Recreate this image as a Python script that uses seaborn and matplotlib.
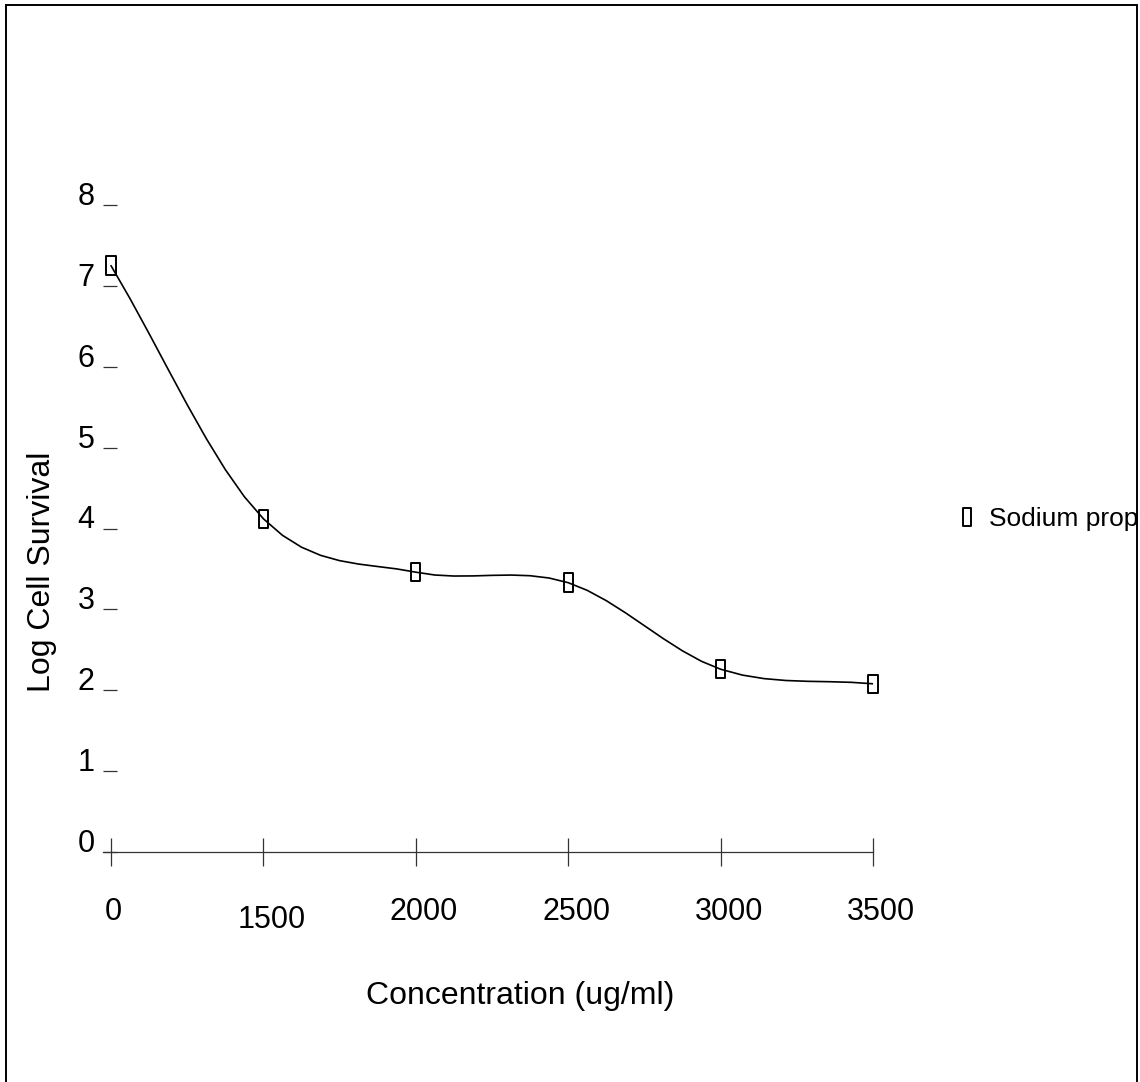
import numpy as np
import pandas as pd
import matplotlib
matplotlib.use("Agg")
import matplotlib.pyplot as plt
import matplotlib.transforms as mtransforms
from matplotlib.path import Path
from matplotlib.lines import Line2D
from matplotlib.patches import Rectangle
import seaborn as sns

# ---- data ----
concentration_labels = ["0", "1500", "2000", "2500", "3000", "3500"]
log_survival = [7.25, 4.12, 3.46, 3.33, 2.26, 2.08]
y_ticks = [0, 1, 2, 3, 4, 5, 6, 7, 8]
series_name = "Sodium prop"

sns.set_theme(style="white")
plt.rcParams["font.family"] = ["Liberation Sans", "DejaVu Sans"]
plt.rcParams["text.color"] = "black"

W, H = 1140, 1082
fig = plt.figure(figsize=(W / 100, H / 100), dpi=100)
fig.patch.set_facecolor("white")

# axes placement in pixels
x_left, x_right = 103, 873
y_bottom, y_top = 852, 205
ax = fig.add_axes([x_left / W, (H - y_bottom) / H, (x_right - x_left) / W, (y_bottom - y_top) / H])
ax.set_facecolor("white")

positions = np.arange(len(concentration_labels))
px_per_unit = (873 - 111) / 5.0
ax.set_xlim(-(111 - x_left) / px_per_unit, len(concentration_labels) - 1)
ax.set_ylim(0, 8)


def smooth_curve(xs, ys, n=8):
    """Catmull-Rom rendering of the line through the data points."""
    xs = np.asarray(xs, float)
    ys = np.asarray(ys, float)
    m = np.zeros_like(ys)
    m[0] = ys[1] - ys[0]
    m[-1] = ys[-1] - ys[-2]
    m[1:-1] = (ys[2:] - ys[:-2]) / 2.0
    out_x, out_y = [], []
    for i in range(len(xs) - 1):
        t = np.linspace(0, 1, n, endpoint=(i == len(xs) - 2))
        h00 = 2 * t**3 - 3 * t**2 + 1
        h10 = t**3 - 2 * t**2 + t
        h01 = -2 * t**3 + 3 * t**2
        h11 = t**3 - t**2
        out_x.extend(xs[i] + t * (xs[i + 1] - xs[i]))
        out_y.extend(h00 * ys[i] + h10 * m[i] + h01 * ys[i + 1] + h11 * m[i + 1])
    return np.array(out_x), np.array(out_y)


sx, sy = smooth_curve(positions, log_survival)
curve_df = pd.DataFrame({"x": sx, "y": sy})
sns.lineplot(data=curve_df, x="x", y="y", sort=False, estimator=None,
             color="black", linewidth=1.2, ax=ax, zorder=2)

rect_marker = Path([(-0.5, -1), (0.5, -1), (0.5, 1), (-0.5, 1), (-0.5, -1)],
                   [Path.MOVETO, Path.LINETO, Path.LINETO, Path.LINETO, Path.CLOSEPOLY])
pts_df = pd.DataFrame({"x": positions, "y": log_survival})
sns.scatterplot(data=pts_df, x="x", y="y", marker=rect_marker, s=175,
                ax=ax, zorder=3, clip_on=False)
coll = ax.collections[-1]
coll.set_facecolor("none")
coll.set_edgecolor("black")
coll.set_linewidth(1.4)

# spines
for side in ["left", "right", "top"]:
    ax.spines[side].set_visible(False)
ax.spines["bottom"].set_color("#333333")
ax.spines["bottom"].set_linewidth(0.9)

ax.set_xticks(positions)
ax.set_xticklabels(concentration_labels)
ax.set_yticks(y_ticks)
ax.set_yticklabels([str(v) for v in y_ticks])
ax.tick_params(axis="x", direction="inout", length=19.5, width=0.9, color="#333333",
               pad=23, labelsize=22, labelcolor="black", bottom=True)
ax.tick_params(axis="y", direction="in", length=10, width=0.9, color="#333333",
               pad=6, labelsize=22, labelcolor="black", left=True)
ax.grid(False)

for lab in ax.get_yticklabels():
    lab.set_va("baseline")

for lab in ax.get_xticklabels():
    txt = lab.get_text()
    dx = 2 if txt == "0" else 8
    dy = -8 if txt == "1500" else 0
    lab.set_transform(lab.get_transform() +
                      mtransforms.ScaledTranslation(dx / 100, dy / 100, fig.dpi_scale_trans))

ax.set_xlabel("Concentration (ug/ml)", fontsize=23, color="black")
ax.set_ylabel("Log Cell Survival", fontsize=23, color="black")
ax.xaxis.set_label_coords(520 / W, (H - 996) / H, transform=fig.transFigure)
ax.xaxis.label.set_va("center")
ax.yaxis.set_label_coords(42 / W, (H - 572) / H, transform=fig.transFigure)
ax.yaxis.label.set_va("center")

# legend
handle = Line2D([], [], linestyle="none", marker=rect_marker, markersize=12.5,
                markerfacecolor="none", markeredgecolor="black", markeredgewidth=1.4)
leg = fig.legend(handles=[handle], labels=[series_name], loc="center left",
                 bbox_to_anchor=(956 / W, (H - 519) / H), frameon=False, fontsize=19,
                 handlelength=0.8, handletextpad=0.45, borderpad=0, borderaxespad=0,
                 labelcolor="black")

# outer frame
fig.patches.append(Rectangle((6 / W, -0.02), (1137 - 6) / W, (H - 5) / H + 0.02,
                             transform=fig.transFigure, fill=False,
                             edgecolor="black", linewidth=1.4, zorder=10))

fig.savefig("out.png", dpi=100, facecolor="white")
